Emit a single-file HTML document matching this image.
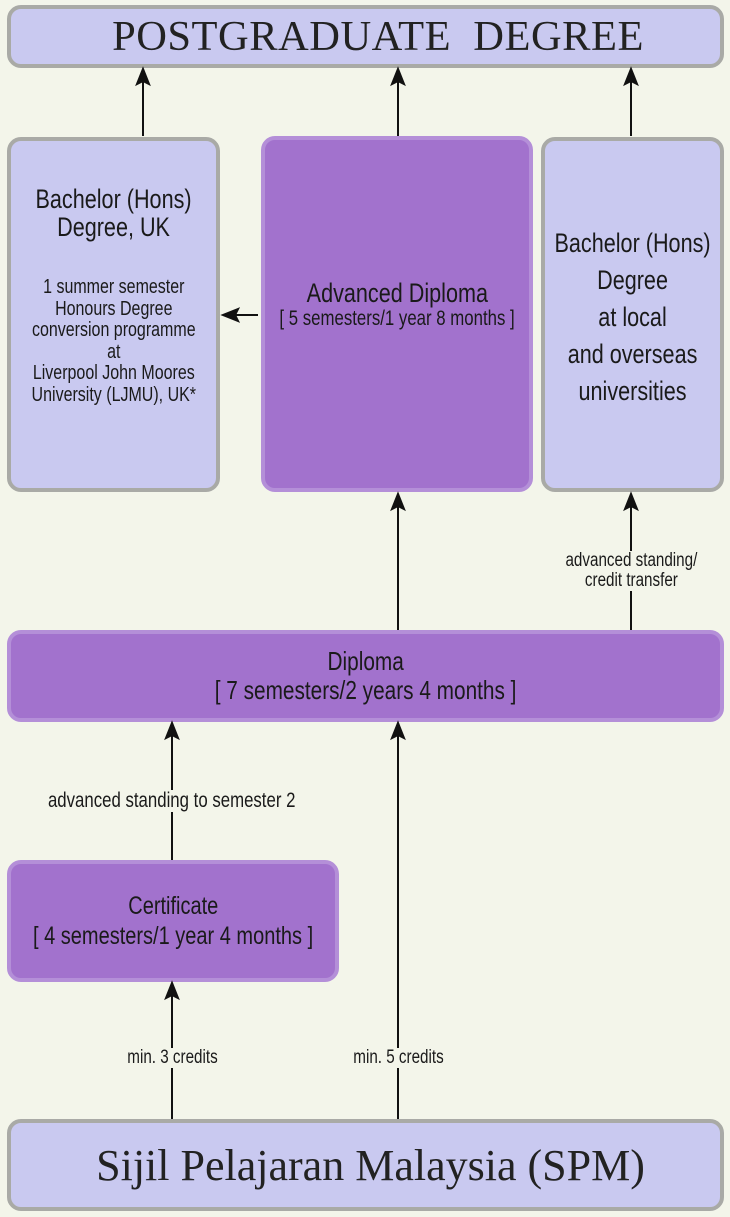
<!DOCTYPE html>
<html><head><meta charset="utf-8"><style>
html,body{margin:0;padding:0}
body{width:730px;height:1217px;background:#f3f5ea;position:relative;overflow:hidden;font-family:"Liberation Sans",sans-serif;color:#1a1a1a}
.b{position:absolute;box-sizing:border-box;border-radius:14px;display:flex;flex-direction:column;align-items:center;justify-content:center;text-align:center}
.l{background:#c9c9f0;border:4px solid #a9aaa6}
.p{background:#a272cd;border:4px solid #b48fd8}
.ser{font-family:"Liberation Serif",serif;color:#222}
.c{display:inline-block;transform:scaleX(0.8);transform-origin:center;white-space:nowrap}
.t{position:absolute;text-align:center;line-height:20px;display:flex;justify-content:center}
.t .c{background:#f3f5ea}
svg{position:absolute;left:0;top:0}
</style></head><body>
<div class="b l ser" style="left:7px;top:5px;width:717px;height:63px;font-size:42.5px;letter-spacing:0.5px;padding-left:25px">POSTGRADUATE&nbsp; DEGREE</div>
<div class="b l" style="left:7px;top:137px;width:213px;height:355px;justify-content:flex-start;padding-top:44px">
<div class="c" style="font-size:27px;line-height:28px">Bachelor (Hons)<br>Degree, UK</div>
<div class="c" style="font-size:20px;line-height:21.5px;margin-top:36px">1 summer semester<br>Honours Degree<br>conversion programme<br>at<br>Liverpool John Moores<br>University (LJMU), UK*</div>
</div>
<div class="b p" style="left:261px;top:136px;width:272px;height:356px">
<div class="c" style="font-size:27px;line-height:28px;margin-top:-18px">Advanced Diploma</div>
<div class="c" style="font-size:21px;line-height:24px">[ 5 semesters/1 year 8 months ]</div>
</div>
<div class="b l" style="left:541px;top:137px;width:183px;height:355px;padding-top:6px">
<div class="c" style="font-size:27px;line-height:37px">Bachelor (Hons)<br>Degree<br>at local<br>and overseas<br>universities</div></div>
<div class="b p" style="left:7px;top:630px;width:717px;height:92px">
<div class="c" style="font-size:26px;line-height:29px">Diploma</div>
<div class="c" style="font-size:26px;line-height:29px">[ 7 semesters/2 years 4 months ]</div>
</div>
<div class="b p" style="left:7px;top:860px;width:332px;height:122px">
<div class="c" style="font-size:25px;line-height:30px">Certificate</div>
<div class="c" style="font-size:25px;line-height:30px">[ 4 semesters/1 year 4 months ]</div>
</div>
<div class="b l ser" style="left:7px;top:1119px;width:717px;height:92px;font-size:44px;padding-left:10px">Sijil Pelajaran Malaysia (SPM)</div>
<svg width="730" height="1217">
<g stroke="#111" stroke-width="2" fill="none">
<line x1="143" y1="136" x2="143" y2="70"/><path d="M137,84 L143,69 L149,84 L143,81Z" fill="#111"/>
<line x1="398" y1="136" x2="398" y2="70"/><path d="M392,84 L398,69 L404,84 L398,81Z" fill="#111"/>
<line x1="631" y1="136" x2="631" y2="70"/><path d="M625,84 L631,69 L637,84 L631,81Z" fill="#111"/>
<line x1="258" y1="315" x2="224" y2="315"/><path d="M238,309 L223,315 L238,321 L235,315Z" fill="#111"/>
<line x1="398" y1="630" x2="398" y2="495"/><path d="M392,509 L398,494 L404,509 L398,506Z" fill="#111"/>
<line x1="631" y1="630" x2="631" y2="495"/><path d="M625,509 L631,494 L637,509 L631,506Z" fill="#111"/>
<line x1="172" y1="860" x2="172" y2="724"/><path d="M166,738 L172,723 L178,738 L172,735Z" fill="#111"/>
<line x1="398" y1="1119" x2="398" y2="724"/><path d="M392,738 L398,723 L404,738 L398,735Z" fill="#111"/>
<line x1="172" y1="1119" x2="172" y2="984"/><path d="M166,998 L172,983 L178,998 L172,995Z" fill="#111"/>
</g></svg>
<div class="t" style="left:530px;top:551px;width:202px"><span class="c" style="font-size:19px;line-height:20px">advanced standing/<br>credit transfer</span></div>
<div class="t" style="left:0px;top:790px;width:344px"><span class="c" style="font-size:21px;line-height:22px">advanced standing to semester 2</span></div>
<div class="t" style="left:102px;top:1048px;width:140px"><span class="c" style="font-size:19px">min. 3 credits</span></div>
<div class="t" style="left:328px;top:1048px;width:140px"><span class="c" style="font-size:19px">min. 5 credits</span></div>
</body></html>
